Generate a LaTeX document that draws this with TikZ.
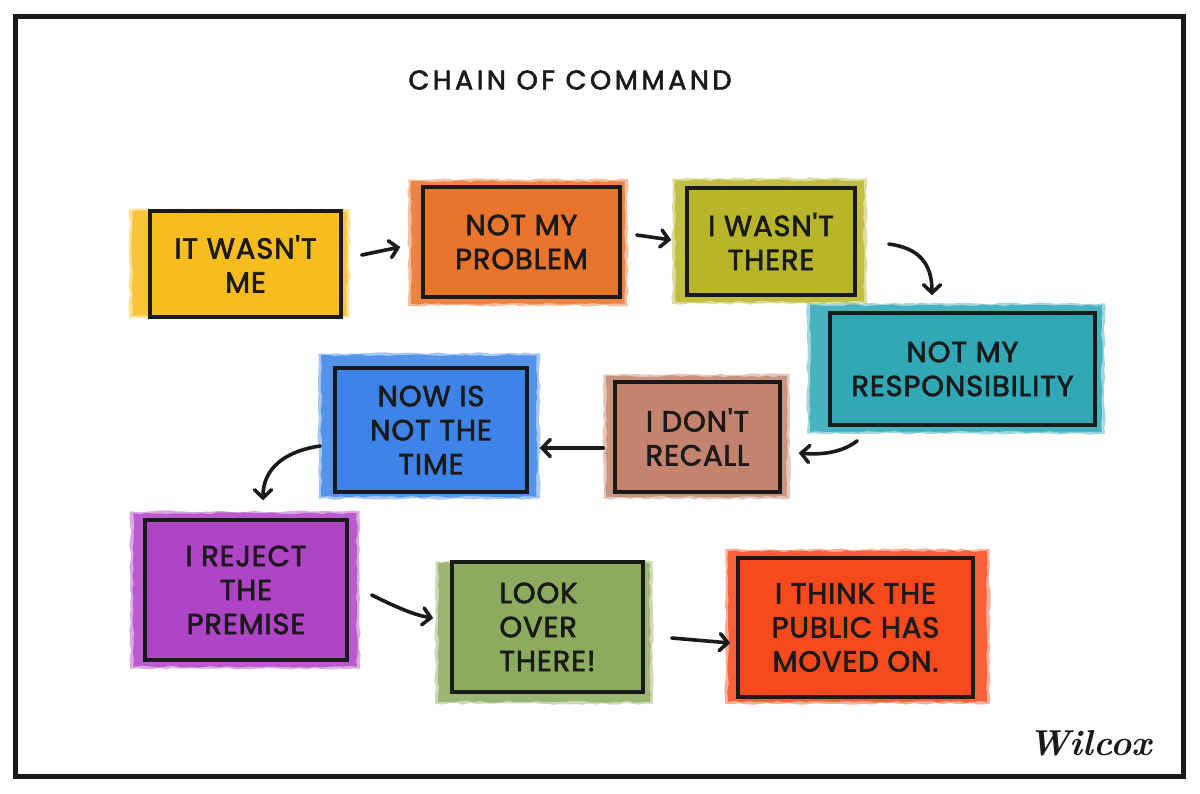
\documentclass[tikz,border=0pt]{standalone}
\usepackage{fontspec}
\usetikzlibrary{arrows.meta,backgrounds,decorations.pathmorphing}
\newfontfamily\hand{Poppins}[LetterSpace=3,FakeBold=2.2]
\newfontfamily\titlefont{Poppins}[LetterSpace=13,FakeBold=2.2]
\definecolor{ink}{HTML}{1A1A1A}
\definecolor{cyellow}{HTML}{F7BD1F}
\definecolor{corange}{HTML}{E9742B}
\definecolor{colive}{HTML}{B8B52A}
\definecolor{cteal}{HTML}{30A8B6}
\definecolor{cbrown}{HTML}{C4836F}
\definecolor{cblue}{HTML}{3E84E8}
\definecolor{cpurple}{HTML}{B044C6}
\definecolor{cgreen}{HTML}{8DAB5F}
\definecolor{cred}{HTML}{F64A1D}
\tikzset{
  card/.style={draw=ink, line width=3.5pt, align=center, inner sep=0pt, text=ink,
    font=\hand\fontsize{29}{34}\selectfont},
  wash/.style={decorate, decoration={random steps, segment length=7pt, amplitude=1pt}},
  flow/.style={draw=ink, line width=3.6pt, line cap=round,
    -{Straight Barb[length=8pt,width=17pt,line cap=round]}},
}
\begin{document}
\begin{tikzpicture}[x=1pt,y=-1pt]
\useasboundingbox (0,0) rectangle (1200,793);
\draw[ink, line width=5pt] (15,16) rectangle (1183,776);

\node[text=ink, font=\titlefont\fontsize{27}{30}\selectfont] (title) at (570,80) {CHAIN OF COMMAND};

\node[card, fill=cyellow, minimum width=191pt, minimum height=106pt] (n1) at (245.5,264) {IT WASN'T\\ME};
\node[card, fill=corange, minimum width=197pt, minimum height=110pt] (n2) at (521.5,242) {NOT MY\\PROBLEM};
\node[card, fill=colive, minimum width=168pt, minimum height=107pt] (n3) at (771,241.5) {I WASN'T\\THERE};
\node[card, fill=cteal, minimum width=265pt, minimum height=112pt] (n4) at (962.5,369) {NOT MY\\RESPONSIBILITY};
\node[card, fill=cbrown, minimum width=165pt, minimum height=110pt] (n5) at (697.5,437) {I DON'T\\RECALL};
\node[card, fill=cblue, minimum width=192pt, minimum height=124pt] (n6) at (431,430) {NOW IS\\NOT THE\\TIME};
\node[card, fill=cpurple, minimum width=202pt, minimum height=140pt] (n7) at (246,590) {I REJECT\\THE\\PREMISE};
\node[card, fill=cgreen, minimum width=191pt, minimum height=130pt, align=left] (n8) at (547.5,627) {LOOK\\OVER\\THERE!};
\node[card, fill=cred, minimum width=235pt, minimum height=139pt] (n9) at (855.5,627.5) {I THINK THE\\PUBLIC HAS\\MOVED ON.};

\node[text=ink, font=\bfseries\itshape\fontsize{36}{38}\selectfont] (sig) at (1090,743) {Wilcox};

\begin{scope}[on background layer]
  \fill[white] (0,0) rectangle (1200,793);
  \foreach \n/\c/\ax/\ay/\bx/\by in {n1/cyellow/-16/2/4/-3, n2/corange/-10/-4/3/5, n3/colive/-10/-6/7/5,
      n4/cteal/-18/-6/5/5, n5/cbrown/-7/-4/5/3, n6/cblue/-12/-11/8/3, n7/cpurple/-10/-5/8/5,
      n8/cgreen/-12/3/5/8, n9/cred/-8/-5/12/3} {
    \fill[wash, \c, opacity=0.45] ([shift={(\ax-3,\ay-2)}]\n.north west) rectangle ([shift={(\bx+3,\by+2)}]\n.south east);
    \fill[wash, \c!88] ([shift={(\ax,\ay)}]\n.north west) rectangle ([shift={(\bx,\by)}]\n.south east);
  }
\end{scope}

\draw[flow] ([shift={(19,-9)}]n1.east) -- ([shift={(-21,5)}]n2.west);
\draw[flow] ([shift={(15,-7)}]n2.east) -- ([shift={(-14,-1.5)}]n3.west);
\draw[flow] ([shift={(32,2.5)}]n3.east) .. controls +(30,4) and +(0,-32) .. ([shift={(-30.5,-16)}]n4.north);
\draw[flow] ([shift={(29,14)}]n4.south west) .. controls +(-15,12) and +(22,2) .. ([shift={(17,16)}]n5.east);
\draw[flow] ([shift={(-10,11)}]n5.west) -- ([shift={(11,18)}]n6.east);
\draw[flow] ([shift={(-13,16)}]n6.west) .. controls +(-35,5) and +(0,-32) .. ([shift={(17,-18)}]n7.north);
\draw[flow] ([shift={(23,5)}]n7.east) .. controls +(20,10) and +(-20,-3) .. ([shift={(-17,-9)}]n8.west);
\draw[flow] ([shift={(27,11)}]n8.east) -- ([shift={(-6,15.5)}]n9.west);
\end{tikzpicture}
\end{document}
